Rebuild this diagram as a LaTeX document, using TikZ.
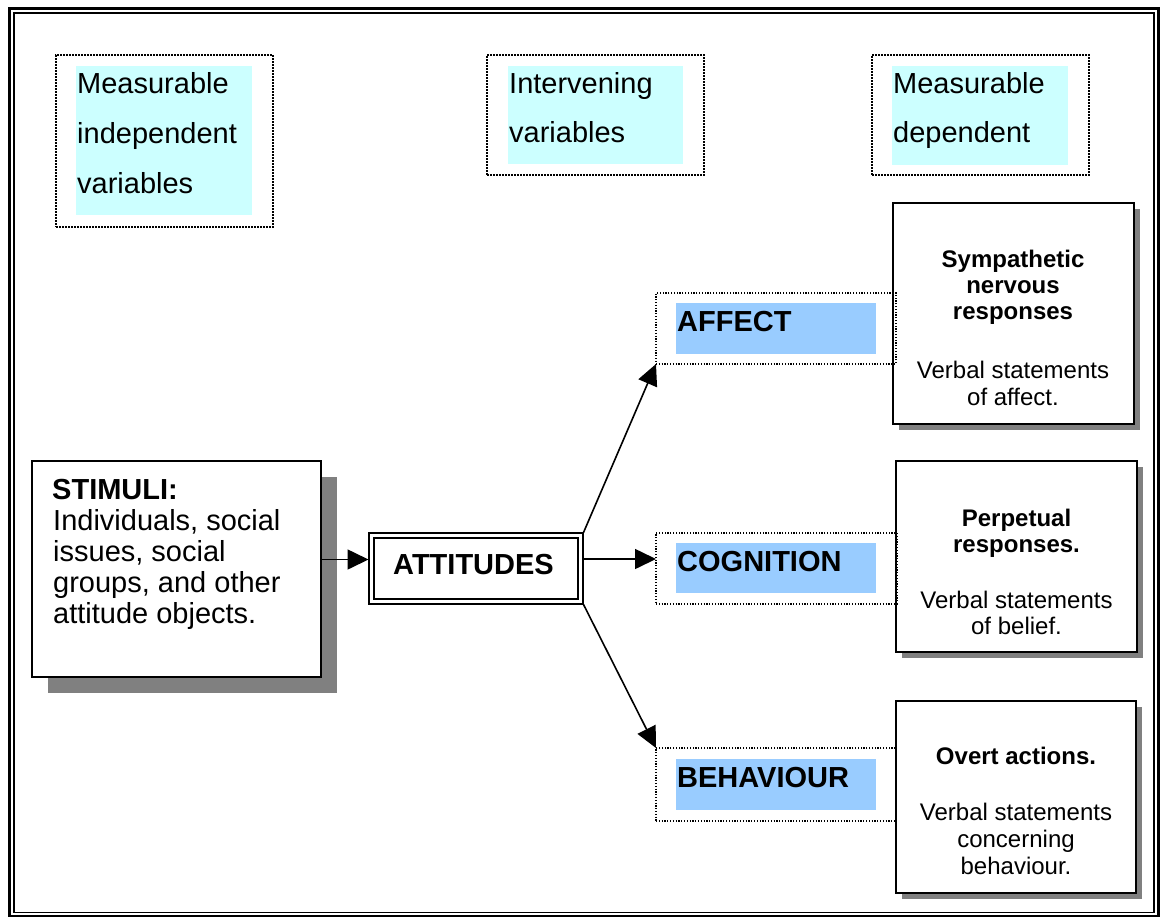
\documentclass[tikz,border=0pt]{standalone}
\usepackage{fontspec}
\setmainfont{Liberation Sans}
\usetikzlibrary{arrows.meta,shadows}
\definecolor{cyanbg}{HTML}{CCFFFF}
\definecolor{bluebg}{HTML}{99CCFF}
\definecolor{shadowgray}{HTML}{808080}
\begin{document}
\begin{tikzpicture}[x=1pt,y=-1pt,
  lbl/.style={font=\fontsize{29}{31}\selectfont, inner sep=0pt, anchor=base west},
  lblb/.style={lbl, font=\fontsize{29}{31}\selectfont\bfseries},
  rtxt/.style={font=\fontsize{24}{27}\selectfont, inner sep=0pt, anchor=base},
  rtxtb/.style={rtxt, font=\fontsize{24}{27}\selectfont\bfseries},
  rect/.style={rectangle, inner sep=0pt, outer sep=0pt},
  varbox/.style={rect, draw, line width=1.8pt, dash pattern=on 1.6pt off 1.4pt},
  compbox/.style={rect, draw, line width=1.1pt, dash pattern=on 1.2pt off 1.6pt},
  cyanfill/.style={rect, fill=cyanbg},
  bluefill/.style={rect, fill=bluebg},
  respbox/.style={rect, draw, fill=white, line width=1.6pt,
    drop shadow={shadow xshift=6pt, shadow yshift=-6pt, fill=shadowgray, opacity=1}},
  arr/.style={line width=1.6pt, -{Triangle[length=21pt,width=20pt]}},
]
\useasboundingbox (0,0) rectangle (1161,916);
% page frame
\draw[line width=3pt] (9.5,8.5) rectangle (1158.5,916.5);
\draw[line width=1.2pt] (14,13) rectangle (1154,912.5);

% top variable boxes
\node[cyanfill, minimum width=176pt, minimum height=149pt] (c1) at (164,140.5) {};
\node[varbox, minimum width=217pt, minimum height=172pt] (v1) at (164.5,141) {};
\node[lbl] (t1a) at (77,93) {Measurable};
\node[lbl] (t1b) at (77,143) {independent};
\node[lbl] (t1c) at (77,193) {variables};

\node[cyanfill, minimum width=175pt, minimum height=98pt] (c2) at (595.5,115) {};
\node[varbox, minimum width=217pt, minimum height=120pt] (v2) at (595.5,115) {};
\node[lbl] (t2a) at (509,93) {Intervening};
\node[lbl] (t2b) at (509,142) {variables};

\node[cyanfill, minimum width=176pt, minimum height=99pt] (c3) at (980,115.5) {};
\node[varbox, minimum width=217pt, minimum height=120pt] (v3) at (980.5,115) {};
\node[lbl] (t3a) at (893,93) {Measurable};
\node[lbl] (t3b) at (893,142) {dependent};

% stimuli
\node[rect, draw, fill=white, line width=1.5pt, minimum width=289pt, minimum height=216pt,
  drop shadow={shadow xshift=15.5pt, shadow yshift=-16pt, fill=shadowgray, opacity=1}] (stim) at (176.5,569) {};
\node[lblb] (s1) at (52,499) {STIMULI:};
\node[lbl] (s2) at (53,530) {Individuals, social};
\node[lbl] (s3) at (53,561) {issues, social};
\node[lbl] (s4) at (53,592) {groups, and other};
\node[lbl] (s5) at (53,623) {attitude objects.};

% attitudes
\node[rect, draw, double, double distance=2.5pt, line width=1.8pt, minimum width=209pt,
  minimum height=66pt, outer sep=3pt] (att) at (476,568.5) {};
\node[lblb, anchor=base] (attt) at (473.5,574) {ATTITUDES};

% response boxes
\node[respbox, minimum width=241pt, minimum height=221pt] (symp) at (1013.5,313.5) {};
\node[rtxtb] (r1a) at (1013,267) {Sympathetic};
\node[rtxtb] (r1b) at (1013,293) {nervous};
\node[rtxtb] (r1c) at (1013,319) {responses};
\node[rtxt] (r1d) at (1013,378) {Verbal statements};
\node[rtxt] (r1e) at (1013,405) {of affect.};

\node[respbox, minimum width=241pt, minimum height=191pt] (perp) at (1016.5,556.5) {};
\node[rtxtb] (r2a) at (1016.5,526) {Perpetual};
\node[rtxtb] (r2b) at (1016.5,552) {responses.};
\node[rtxt] (r2c) at (1016.5,608) {Verbal statements};
\node[rtxt] (r2d) at (1016.5,634) {of belief.};

\node[respbox, minimum width=240pt, minimum height=192pt] (overt) at (1016,797) {};
\node[rtxtb] (r3a) at (1016,764) {Overt actions.};
\node[rtxt] (r3b) at (1016,820) {Verbal statements};
\node[rtxt] (r3c) at (1016,847) {concerning};
\node[rtxt] (r3d) at (1016,874) {behaviour.};

% components
\node[bluefill, minimum width=200pt, minimum height=51pt] (affb) at (776,328.5) {};
\node[compbox, minimum width=240pt, minimum height=71pt] (aff) at (776,328.5) {};
\node[lblb] (afft) at (677,331) {AFFECT};

\node[bluefill, minimum width=200pt, minimum height=50pt] (cogb) at (776,568) {};
\node[compbox, minimum width=241pt, minimum height=71pt] (cog) at (776.5,568.5) {};
\node[lblb] (cogt) at (677,571) {COGNITION};

\node[bluefill, minimum width=200pt, minimum height=51pt] (behb) at (776,784.5) {};
\node[compbox, minimum width=240pt, minimum height=73pt] (beh) at (776,784.5) {};
\node[lblb] (beht) at (677,787) {BEHAVIOUR};

% arrows
\draw[arr] ([yshift=9.5pt]stim.east) -- ([yshift=9.5pt]stim.east -| att.west);
\draw[arr] ([yshift=9.5pt]att.east) -- ([yshift=9.5pt]att.east -| cog.west);
\draw[arr] (att.north east) -- (aff.south west);
\draw[arr] (att.south east) -- (beh.north west);
\end{tikzpicture}
\end{document}
